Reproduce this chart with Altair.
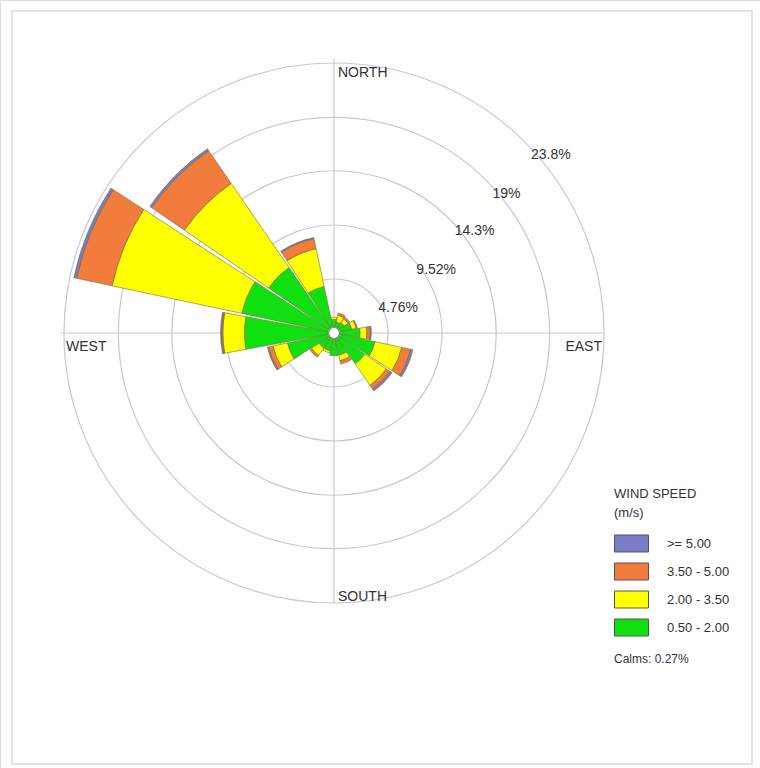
import math
import altair as alt
import pandas as pd

# ---------------- data ----------------
directions = ["N", "NNE", "NE", "ENE", "E", "ESE", "SE", "SSE",
              "S", "SSW", "SW", "WSW", "W", "WNW", "NW", "NNW"]
bearings = [0, 22.5, 45, 67.5, 90, 112.5, 135, 157.5,
            180, 202.5, 225, 247.5, 270, 292.5, 315, 337.5]
# percentage of time in each speed class (per direction)
green_050_200 = [1.2, 1.0, 1.1, 1.6, 2.3, 3.7, 3.3, 2.0, 2.0, 1.6, 1.6, 4.2, 7.9, 8.3, 7.0, 4.2]
yellow_200_350 = [0.2, 0.6, 0.4, 0.4, 0.6, 2.4, 2.3, 0.5, 0.0, 0.2, 0.8, 1.3, 1.9, 11.7, 9.0, 3.4]
orange_350_500 = [0.0, 0.2, 0.2, 0.1, 0.3, 0.8, 0.4, 0.3, 0.0, 0.0, 0.2, 0.4, 0.1, 3.2, 3.5, 0.9]
purple_ge_500 = [0.0, 0.0, 0.0, 0.0, 0.1, 0.2, 0.2, 0.0, 0.0, 0.0, 0.0, 0.1, 0.1, 0.25, 0.2, 0.1]

speed_bins = ["0.50 - 2.00", "2.00 - 3.50", "3.50 - 5.00", ">= 5.00"]
bin_colors = ["#10e010", "#ffff00", "#f27c3c", "#7b7bc8"]
legend_order = [">= 5.00", "3.50 - 5.00", "2.00 - 3.50", "0.50 - 2.00"]

ring_values = [4.76, 9.52, 14.3, 19.0, 23.8]
ring_labels = ["4.76%", "9.52%", "14.3%", "19%", "23.8%"]

compass_names = ["NORTH", "EAST", "SOUTH", "WEST"]
compass_angles = [0, 90, 180, 270]

calms_pct = 0.27

# ---------------- layout constants ----------------
CX, CY = 334, 333
R_MAX_PX = 270
FONT = "Liberation Sans"
HALF_WIDTH = 10.5  # half angular width of a petal, degrees

# ---------------- tables ----------------
rows = []
series = [green_050_200, yellow_200_350, orange_350_500, purple_ge_500]
for i, (d, b) in enumerate(zip(directions, bearings)):
    cum = 0.0
    for name, vals in zip(speed_bins, series):
        v = vals[i]
        if v <= 0:
            continue
        rows.append({"dir": d, "bearing": b, "bin": name, "r0": cum, "r1": cum + v})
        cum += v
petal_df = pd.DataFrame(rows)

ring_df = pd.DataFrame({"r": ring_values, "label": ring_labels})
one = pd.DataFrame({"a": [0]})

theta_scale = alt.Scale(type="linear", domain=[0, 360], range=[0, 2 * math.pi])
r_scale = alt.Scale(type="linear", domain=[0, 23.8], range=[0, R_MAX_PX])

# ---------------- layers ----------------
frame = alt.Chart(one).mark_rect(fill="white", stroke="#dadada", strokeWidth=1.5).encode(
    x=alt.value(12), x2=alt.value(752), y=alt.value(11), y2=alt.value(764)
)

vline = alt.Chart(one).mark_rule(color="#c6c6dc", strokeWidth=1.2).encode(
    x=alt.value(CX), y=alt.value(CY - R_MAX_PX - 4), y2=alt.value(CY + R_MAX_PX)
)
hline = alt.Chart(one).mark_rule(color="#c6c6dc", strokeWidth=1.2).encode(
    y=alt.value(CY), x=alt.value(CX - R_MAX_PX - 3), x2=alt.value(CX + R_MAX_PX)
)

rings = alt.Chart(ring_df).mark_arc(filled=False, stroke="#c6c6dc", strokeWidth=1.2).encode(
    x=alt.value(CX), y=alt.value(CY),
    theta=alt.value(0), theta2=alt.value(2 * math.pi),
    radius=alt.Radius("r:Q", scale=r_scale, stack=None),
)

ring_text = alt.Chart(ring_df).mark_text(
    align="left", baseline="bottom", dx=6, dy=20, fontSize=14, font=FONT, color="#333333"
).encode(
    x=alt.value(CX), y=alt.value(CY),
    theta=alt.value(math.pi / 4),
    radius=alt.Radius("r:Q", scale=r_scale, stack=None),
    text="label:N",
)

petals = alt.Chart(petal_df).transform_calculate(
    a0=f"datum.bearing - {HALF_WIDTH}", a1=f"datum.bearing + {HALF_WIDTH}"
).mark_arc(stroke="#6f6a3a", strokeWidth=0.7, strokeOpacity=0.85).encode(
    x=alt.value(CX), y=alt.value(CY),
    theta=alt.Theta("a0:Q", scale=theta_scale, stack=None),
    theta2="a1:Q",
    radius=alt.Radius("r1:Q", scale=r_scale, stack=None),
    radius2="r0:Q",
    color=alt.Color(
        "bin:N",
        scale=alt.Scale(domain=legend_order, range=[bin_colors[3], bin_colors[2], bin_colors[1], bin_colors[0]]),
        legend=alt.Legend(
            orient="none", legendX=614, legendY=488,
            title=["WIND SPEED", "(m/s)"], titleFont=FONT, titleFontSize=13,
            titleFontWeight="normal", titleColor="#333333", titleLineHeight=19,
            titlePadding=6,
            symbolType="M-1,-0.5H1V0.5H-1Z", symbolSize=1156,
            symbolStrokeColor="#555555", symbolStrokeWidth=1, symbolOpacity=1,
            labelFont=FONT, labelFontSize=13, labelColor="#333333", labelOffset=18,
            rowPadding=-8,
        ),
    ),
)

center = alt.Chart(pd.DataFrame({"calms": [calms_pct]})).mark_point(
    shape="circle", size=120, filled=True, fill="white", stroke="#8a8a8a", strokeWidth=1.2, opacity=1
).encode(x=alt.value(CX), y=alt.value(CY))

compass_layers = []
compass_style = {
    "NORTH": dict(align="left", baseline="top", dx=4, dy=3),
    "EAST": dict(align="right", baseline="top", dx=-2, dy=7),
    "SOUTH": dict(align="left", baseline="alphabetic", dx=4, dy=-2),
    "WEST": dict(align="left", baseline="top", dx=2, dy=7),
}
for name, ang in zip(compass_names, compass_angles):
    cdf = pd.DataFrame({"name": [name], "ang": [ang], "r": [ring_values[-1]]})
    compass_layers.append(
        alt.Chart(cdf).mark_text(fontSize=14, font=FONT, color="#333333", **compass_style[name]).encode(
            x=alt.value(CX), y=alt.value(CY),
            theta=alt.value(math.radians(ang)),
            radius=alt.Radius("r:Q", scale=r_scale, stack=None),
            text="name:N",
        )
    )

calms_text = alt.Chart(pd.DataFrame({"t": [f"Calms: {calms_pct}%"]})).mark_text(
    align="left", baseline="middle", fontSize=12, font=FONT, color="#333333"
).encode(x=alt.value(614), y=alt.value(659), text="t:N")

chart = alt.layer(
    frame, vline, hline, rings, ring_text, petals, center, *compass_layers, calms_text
).properties(
    width=760, height=768, autosize="none", padding=0
).configure_view(stroke=None).configure(background="white", font=FONT)

chart.save("out.html", embed_options={"renderer": "svg", "actions": False})
